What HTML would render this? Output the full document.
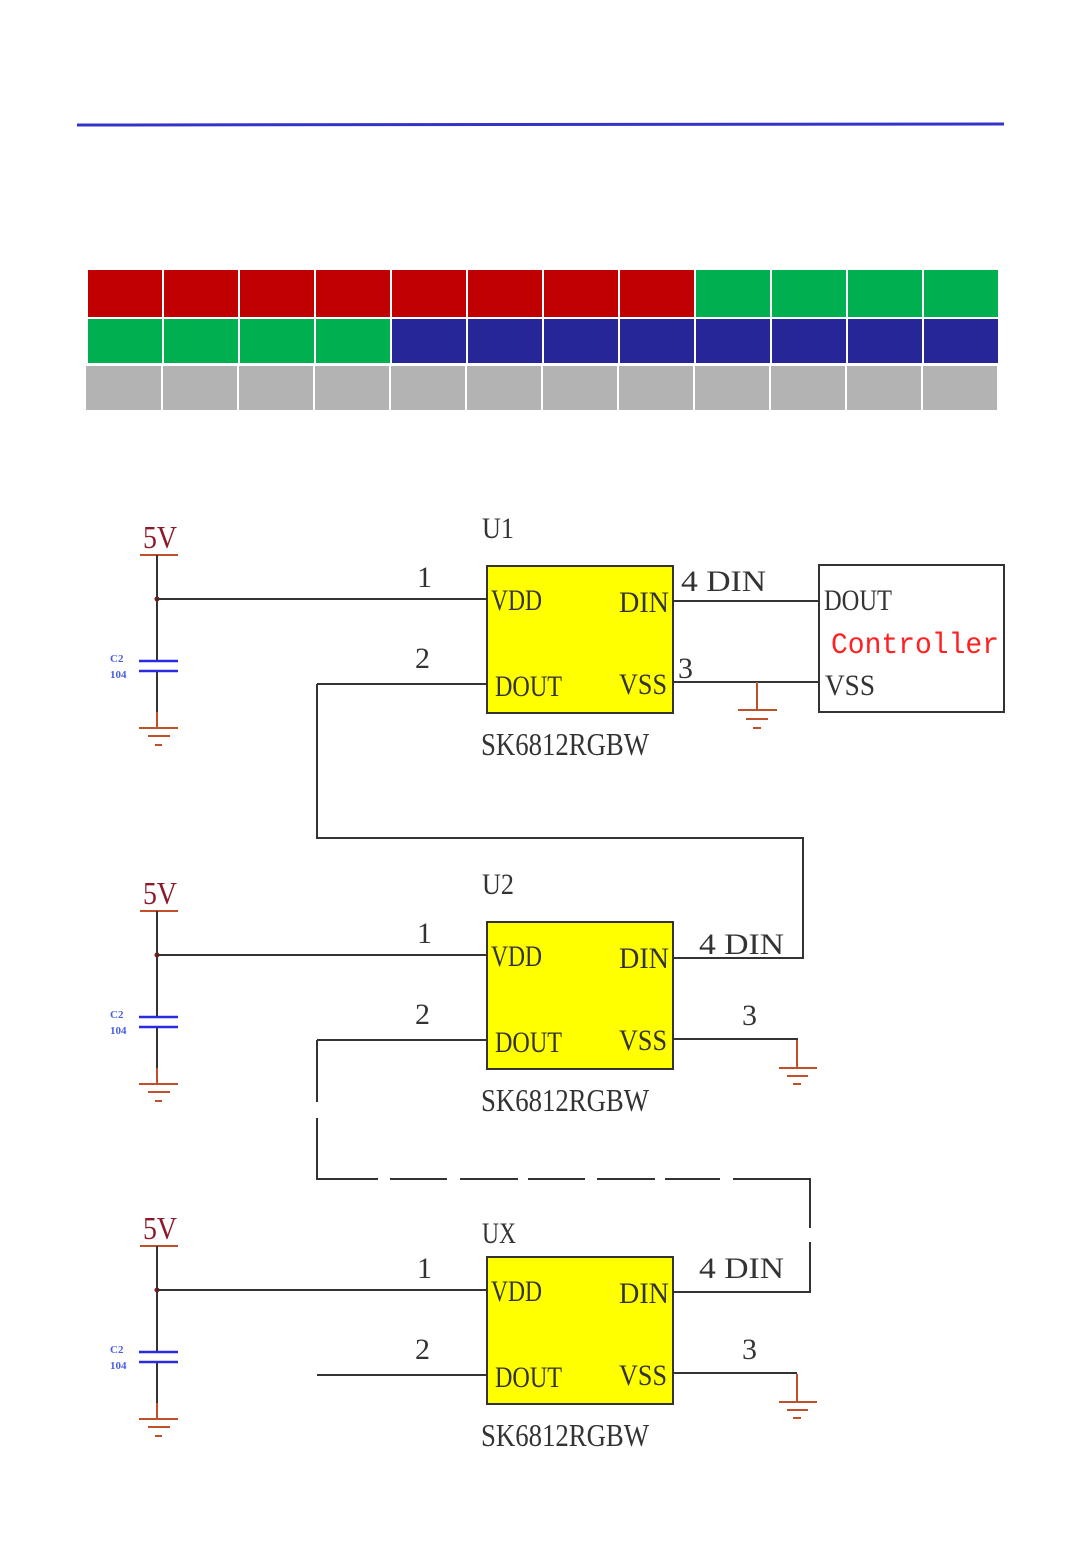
<!DOCTYPE html>
<html><head><meta charset="utf-8"><style>
html,body{margin:0;padding:0;background:#fff;}
svg{display:block;}
.t{font-family:"Liberation Serif",serif;fill:#333;}
</style></head><body>
<svg width="1080" height="1560" viewBox="0 0 1080 1560" xmlns="http://www.w3.org/2000/svg">
<line x1="77" y1="125" x2="1004" y2="124" stroke="#3333cc" stroke-width="3"/>
<g>
<!-- row1 -->
<rect x="88" y="270" width="74" height="47" fill="#c00000"/>
<rect x="164" y="270" width="74" height="47" fill="#c00000"/>
<rect x="240" y="270" width="74" height="47" fill="#c00000"/>
<rect x="316" y="270" width="74" height="47" fill="#c00000"/>
<rect x="392" y="270" width="74" height="47" fill="#c00000"/>
<rect x="468" y="270" width="74" height="47" fill="#c00000"/>
<rect x="544" y="270" width="74" height="47" fill="#c00000"/>
<rect x="620" y="270" width="74" height="47" fill="#c00000"/>
<rect x="696" y="270" width="74" height="47" fill="#00b050"/>
<rect x="772" y="270" width="74" height="47" fill="#00b050"/>
<rect x="848" y="270" width="74" height="47" fill="#00b050"/>
<rect x="924" y="270" width="74" height="47" fill="#00b050"/>
<!-- row2 -->
<rect x="88" y="319" width="74" height="44" fill="#00b050"/>
<rect x="164" y="319" width="74" height="44" fill="#00b050"/>
<rect x="240" y="319" width="74" height="44" fill="#00b050"/>
<rect x="316" y="319" width="74" height="44" fill="#00b050"/>
<rect x="392" y="319" width="74" height="44" fill="#262699"/>
<rect x="468" y="319" width="74" height="44" fill="#262699"/>
<rect x="544" y="319" width="74" height="44" fill="#262699"/>
<rect x="620" y="319" width="74" height="44" fill="#262699"/>
<rect x="696" y="319" width="74" height="44" fill="#262699"/>
<rect x="772" y="319" width="74" height="44" fill="#262699"/>
<rect x="848" y="319" width="74" height="44" fill="#262699"/>
<rect x="924" y="319" width="74" height="44" fill="#262699"/>
<!-- row3 -->
<g fill="#b3b3b3">
<rect x="86" y="366" width="75" height="44"/><rect x="163" y="366" width="74" height="44"/>
<rect x="239" y="366" width="74" height="44"/><rect x="315" y="366" width="74" height="44"/>
<rect x="391" y="366" width="74" height="44"/><rect x="467" y="366" width="74" height="44"/>
<rect x="543" y="366" width="74" height="44"/><rect x="619" y="366" width="74" height="44"/>
<rect x="695" y="366" width="74" height="44"/><rect x="771" y="366" width="74" height="44"/>
<rect x="847" y="366" width="74" height="44"/><rect x="923" y="366" width="74" height="44"/>
</g>
</g>

<defs>
<g id="left">
<text x="143" y="548" class="t" style="fill:#8b1a2a" font-size="32" textLength="34" lengthAdjust="spacingAndGlyphs">5V</text>
<line x1="140" y1="555" x2="178" y2="555" stroke="#c0502a" stroke-width="2"/>
<line x1="157" y1="555" x2="157" y2="712" stroke="#333" stroke-width="2"/>
<line x1="157" y1="712" x2="157" y2="728" stroke="#c0502a" stroke-width="2"/>
<line x1="139" y1="728" x2="178" y2="728" stroke="#c0502a" stroke-width="2"/>
<line x1="148" y1="736" x2="170" y2="736" stroke="#c0502a" stroke-width="2"/>
<line x1="155" y1="745" x2="162" y2="745" stroke="#c0502a" stroke-width="2"/>
<rect x="140" y="662" width="38" height="10" fill="#fff"/>
<line x1="139" y1="661" x2="178" y2="661" stroke="#2a2ae0" stroke-width="2.5"/>
<line x1="139" y1="671" x2="178" y2="671" stroke="#2a2ae0" stroke-width="2.5"/>
<text x="110" y="662" font-family="Liberation Serif,serif" font-size="11" fill="#4a5ee0" font-weight="bold">C2</text>
<text x="110" y="678" font-family="Liberation Serif,serif" font-size="11" fill="#4a5ee0" font-weight="bold">104</text>
<circle cx="157" cy="599" r="2.5" fill="#7a1a1a"/>
<line x1="157" y1="599" x2="487" y2="599" stroke="#333" stroke-width="2"/>
<text x="417" y="587" class="t" font-size="30">1</text>
<text x="415" y="668" class="t" font-size="30">2</text>
<line x1="317" y1="684" x2="487" y2="684" stroke="#333" stroke-width="2"/>
<rect x="487" y="566" width="186" height="147" fill="#ffff00" stroke="#333" stroke-width="2"/>
<text x="491" y="610" class="t" font-size="30" textLength="51" lengthAdjust="spacingAndGlyphs">VDD</text>
<text x="619" y="612" class="t" font-size="30" textLength="50" lengthAdjust="spacingAndGlyphs">DIN</text>
<text x="495" y="696" class="t" font-size="30" textLength="67" lengthAdjust="spacingAndGlyphs">DOUT</text>
<text x="619" y="694" class="t" font-size="30" textLength="48" lengthAdjust="spacingAndGlyphs">VSS</text>
<text x="481" y="755" class="t" font-size="32" textLength="168" lengthAdjust="spacingAndGlyphs">SK6812RGBW</text>
</g>
</defs>

<use href="#left"/>
<use href="#left" transform="translate(0,356)"/>
<use href="#left" transform="translate(0,691)"/>

<text x="482" y="538" class="t" font-size="30" textLength="32" lengthAdjust="spacingAndGlyphs">U1</text>
<text x="482" y="894" class="t" font-size="30" textLength="32" lengthAdjust="spacingAndGlyphs">U2</text>
<text x="482" y="1243" class="t" font-size="30" textLength="34" lengthAdjust="spacingAndGlyphs">UX</text>

<!-- U1 right -->
<line x1="673" y1="601" x2="819" y2="601" stroke="#333" stroke-width="2"/>
<line x1="673" y1="682" x2="819" y2="682" stroke="#333" stroke-width="2"/>
<text x="681" y="591" class="t" font-size="30" textLength="85" lengthAdjust="spacingAndGlyphs">4 DIN</text>
<text x="678" y="678" class="t" font-size="30">3</text>
<g stroke="#c0502a" stroke-width="2">
<line x1="757" y1="682" x2="757" y2="710"/><line x1="738" y1="710" x2="777" y2="710"/>
<line x1="746" y1="719" x2="768" y2="719"/><line x1="753" y1="728" x2="761" y2="728"/>
</g>
<rect x="819" y="565" width="185" height="147" fill="none" stroke="#333" stroke-width="2"/>
<text x="824" y="610" class="t" font-size="30" textLength="68" lengthAdjust="spacingAndGlyphs">DOUT</text>
<text x="831" y="653" font-family="Liberation Mono,monospace" font-size="30" fill="#ff2020" textLength="168" lengthAdjust="spacingAndGlyphs">Controller</text>
<text x="825" y="695" class="t" font-size="30" textLength="50" lengthAdjust="spacingAndGlyphs">VSS</text>

<!-- link U1->U2 -->
<polyline points="317,684 317,838 803,838 803,958 673,958" fill="none" stroke="#333" stroke-width="2"/>
<text x="699" y="954" class="t" font-size="30" textLength="85" lengthAdjust="spacingAndGlyphs">4 DIN</text>
<text x="742" y="1025" class="t" font-size="30">3</text>
<polyline points="673,1039 797,1039 797,1068" fill="none" stroke="#333" stroke-width="2"/>
<g stroke="#c0502a" stroke-width="2">
<line x1="797" y1="1040" x2="797" y2="1068"/><line x1="779" y1="1068" x2="817" y2="1068"/>
<line x1="787" y1="1076" x2="808" y2="1076"/><line x1="793" y1="1084" x2="801" y2="1084"/>
</g>

<!-- dashed link -->
<g stroke="#333" stroke-width="2" fill="none">
<line x1="317" y1="1040" x2="317" y2="1102"/>
<line x1="317" y1="1118" x2="317" y2="1180"/>
<line x1="317" y1="1179" x2="378" y2="1179"/>
<line x1="390" y1="1179" x2="447" y2="1179"/>
<line x1="460" y1="1179" x2="518" y2="1179"/>
<line x1="528" y1="1179" x2="585" y2="1179"/>
<line x1="597" y1="1179" x2="655" y2="1179"/>
<line x1="665" y1="1179" x2="720" y2="1179"/>
<line x1="733" y1="1179" x2="811" y2="1179"/>
<line x1="810" y1="1179" x2="810" y2="1228"/>
<polyline points="810,1242 810,1292 673,1292"/>
</g>
<text x="699" y="1278" class="t" font-size="30" textLength="85" lengthAdjust="spacingAndGlyphs">4 DIN</text>
<text x="742" y="1359" class="t" font-size="30">3</text>
<line x1="673" y1="1373" x2="797" y2="1373" stroke="#333" stroke-width="2"/>
<g stroke="#c0502a" stroke-width="2">
<line x1="797" y1="1374" x2="797" y2="1402"/><line x1="779" y1="1402" x2="817" y2="1402"/>
<line x1="787" y1="1410" x2="808" y2="1410"/><line x1="793" y1="1418" x2="801" y2="1418"/>
</g>
</svg>
</body></html>
